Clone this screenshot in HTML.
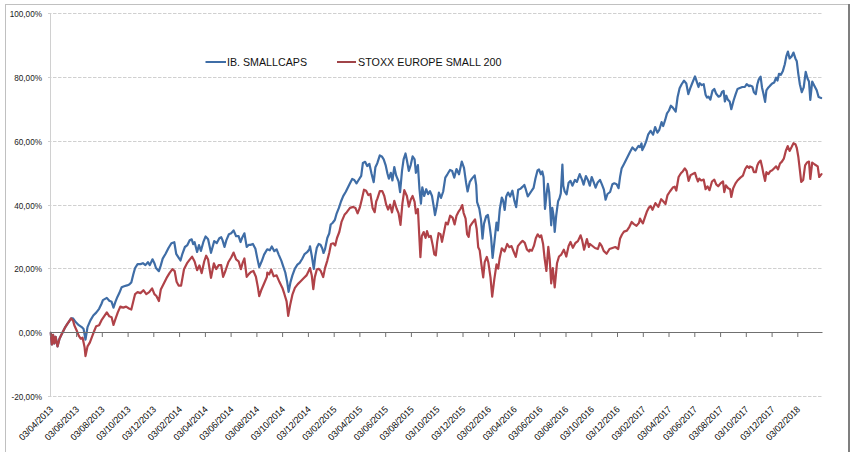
<!DOCTYPE html>
<html><head><meta charset="utf-8"><style>
html,body{margin:0;padding:0;background:#fff;}
body{width:853px;height:466px;overflow:hidden;}
svg{display:block;font-family:"Liberation Sans",sans-serif;}
</style></head><body>
<svg width="853" height="466" viewBox="0 0 853 466"><rect width="853" height="466" fill="#fff"/><line x1="5.5" y1="4" x2="5.5" y2="452" stroke="#c0c0c0" stroke-width="1"/><line x1="5" y1="4.5" x2="849" y2="4.5" stroke="#c0c0c0" stroke-width="1"/><line x1="849" y1="4" x2="849" y2="452" stroke="#7f7f7f" stroke-width="2"/><line x1="48" y1="13.5" x2="822.5" y2="13.5" stroke="#d0d0d0" stroke-width="1" stroke-dasharray="3.5 1.5"/><line x1="48" y1="77.5" x2="822.5" y2="77.5" stroke="#d0d0d0" stroke-width="1" stroke-dasharray="3.5 1.5"/><line x1="48" y1="141.5" x2="822.5" y2="141.5" stroke="#d0d0d0" stroke-width="1" stroke-dasharray="3.5 1.5"/><line x1="48" y1="205.5" x2="822.5" y2="205.5" stroke="#d0d0d0" stroke-width="1" stroke-dasharray="3.5 1.5"/><line x1="48" y1="268.5" x2="822.5" y2="268.5" stroke="#d0d0d0" stroke-width="1" stroke-dasharray="3.5 1.5"/><line x1="48" y1="396.5" x2="822.5" y2="396.5" stroke="#d0d0d0" stroke-width="1" stroke-dasharray="3.5 1.5"/><line x1="50.5" y1="13" x2="50.5" y2="396.5" stroke="#d0d0d0" stroke-width="1"/><text x="42" y="16.5" text-anchor="end" font-size="8.2" fill="#1a1a1a">100,00%</text><text x="42" y="80.5" text-anchor="end" font-size="8.2" fill="#1a1a1a">80,00%</text><text x="42" y="144.5" text-anchor="end" font-size="8.2" fill="#1a1a1a">60,00%</text><text x="42" y="208.5" text-anchor="end" font-size="8.2" fill="#1a1a1a">40,00%</text><text x="42" y="271.5" text-anchor="end" font-size="8.2" fill="#1a1a1a">20,00%</text><text x="42" y="335.5" text-anchor="end" font-size="8.2" fill="#1a1a1a">0,00%</text><text x="42" y="399.5" text-anchor="end" font-size="8.2" fill="#1a1a1a">-20,00%</text><path d="M50.8,332.9 L51.8,344.5 L53.1,334.8 L54.3,343.5 L55.6,336.8 L57.5,346.4 L59.5,338.7 L61.4,334.8 L63.3,331.0 L65.3,327.1 L67.2,324.2 L69.1,321.3 L71.1,318.4 L73.0,318.4 L75.9,322.3 L78.8,325.2 L81.7,327.1 L83.6,329.1 L85.5,339.7 L87.5,327.1 L90.4,320.4 L93.3,315.5 L96.2,312.6 L99.1,308.8 L101.4,304.0 L102.9,300.1 L106.8,297.9 L109.3,300.8 L111.6,301.8 L113.5,307.6 L115.4,301.8 L117.4,296.9 L119.3,293.1 L121.6,287.3 L124.1,286.3 L127.0,285.4 L129.3,284.4 L131.3,282.5 L133.2,274.7 L135.1,268.0 L137.6,264.1 L140.5,264.1 L142.9,263.2 L145.4,265.1 L147.9,262.2 L149.8,265.1 L152.5,259.3 L154.4,263.2 L156.0,268.0 L158.9,271.2 L160.8,265.4 L162.7,258.6 L165.6,253.8 L168.5,248.0 L171.4,243.2 L174.3,242.2 L176.2,253.8 L178.6,257.6 L180.5,260.5 L182.4,253.8 L184.9,247.0 L187.4,245.1 L189.7,240.3 L191.7,239.3 L193.2,244.1 L194.6,242.2 L197.1,251.9 L199.0,245.1 L200.9,250.9 L203.3,242.2 L205.6,236.4 L208.1,239.3 L211.0,252.8 L214.2,241.1 L216.8,243.0 L219.3,238.2 L221.2,237.2 L222.5,240.1 L224.5,246.9 L226.4,240.1 L228.9,234.3 L231.2,233.3 L233.6,230.4 L236.1,236.2 L238.6,236.2 L240.5,242.0 L242.4,237.2 L244.4,233.3 L246.7,246.9 L248.6,244.9 L250.5,244.9 L252.9,244.0 L255.4,248.8 L257.3,258.4 L259.2,267.1 L261.7,261.3 L264.1,254.6 L266.9,249.7 L267.3,249.3 L269.8,250.3 L271.8,246.4 L274.3,251.2 L276.6,249.3 L278.9,255.1 L281.4,260.9 L283.3,266.7 L285.3,272.5 L287.2,282.1 L288.6,291.8 L290.5,282.1 L292.4,275.4 L294.9,268.6 L297.4,264.7 L299.7,262.8 L302.1,259.0 L304.6,254.1 L307.1,252.2 L309.4,249.3 L310.0,246.3 L311.8,256.0 L313.8,268.8 L315.3,256.0 L316.8,247.8 L318.7,244.0 L320.5,244.8 L322.3,248.5 L323.5,253.0 L325.0,249.3 L327.3,238.0 L329.2,233.5 L330.7,224.5 L332.5,223.0 L334.8,220.0 L336.7,213.3 L338.9,207.9 L341.0,201.5 L343.2,196.1 L345.8,191.8 L347.9,187.6 L350.0,183.3 L352.2,179.0 L354.3,180.0 L356.5,183.3 L358.6,180.0 L361.2,175.8 L362.9,162.9 L365.1,161.8 L367.2,166.1 L369.4,163.9 L371.5,173.6 L373.7,182.2 L375.4,167.2 L377.3,163.2 L379.8,155.4 L381.8,156.4 L383.7,159.3 L385.6,165.1 L387.5,173.8 L388.9,178.6 L390.8,172.8 L392.4,180.5 L394.3,167.0 L396.2,175.7 L398.6,181.5 L400.1,192.1 L402.0,170.9 L403.6,159.3 L405.5,153.5 L406.9,160.3 L408.8,170.9 L410.7,165.1 L412.6,156.4 L414.6,159.3 L415.9,172.8 L417.9,165.1 L419.4,188.3 L420.9,203.7 L422.3,187.3 L424.2,196.0 L426.2,189.2 L428.1,194.1 L430.0,191.2 L432.0,196.0 L433.9,207.6 L435.0,215.1 L436.7,206.5 L438.9,192.6 L441.0,197.9 L443.2,191.5 L445.3,177.6 L447.4,174.3 L450.0,170.0 L452.2,171.1 L454.3,177.6 L456.5,169.0 L459.0,174.3 L461.8,161.5 L464.0,167.9 L466.1,182.9 L467.6,191.5 L469.8,181.8 L471.9,178.6 L474.7,175.4 L476.2,185.1 L477.1,202.1 L479.3,208.6 L481.0,219.3 L482.5,238.6 L484.0,223.6 L486.2,216.1 L487.9,215.0 L489.6,225.8 L491.1,237.6 L492.6,257.9 L494.3,242.9 L496.5,222.5 L497.9,230.3 L499.8,209.1 L501.8,197.5 L503.1,200.4 L504.7,210.0 L506.2,196.5 L508.1,192.6 L510.1,196.5 L512.4,190.7 L514.3,200.4 L516.2,207.1 L518.2,189.7 L520.5,188.8 L522.4,186.9 L524.3,184.9 L525.9,189.7 L527.8,196.5 L529.7,193.6 L531.7,190.7 L533.6,187.8 L535.5,178.2 L537.5,170.4 L539.0,169.5 L540.9,174.3 L542.3,171.4 L543.6,177.2 L545.0,208.9 L546.5,194.4 L547.9,183.8 L549.2,192.5 L550.4,211.8 L551.2,225.3 L552.3,207.9 L553.7,216.6 L554.7,232.0 L556.2,215.6 L558.1,201.2 L559.5,198.3 L560.8,193.4 L562.4,164.5 L563.3,185.7 L564.7,191.5 L566.6,194.4 L568.6,182.8 L570.5,180.9 L572.4,185.7 L574.9,179.9 L576.9,181.9 L579.7,174.1 L582.1,179.9 L583.6,184.7 L585.9,176.1 L587.9,179.9 L589.8,185.7 L591.7,177.0 L593.6,181.9 L595.6,187.6 L597.5,182.8 L600.0,179.9 L602.0,184.7 L603.9,189.6 L605.6,199.7 L607.5,194.0 L610.1,192.0 L612.4,184.3 L614.3,183.3 L616.6,184.3 L618.6,188.2 L620.1,176.6 L621.6,168.6 L624.0,164.0 L627.0,158.0 L630.0,152.0 L632.4,147.5 L635.4,150.5 L638.4,146.0 L640.0,147.2 L641.5,143.4 L642.3,150.1 L644.2,146.3 L646.2,141.4 L648.1,134.7 L650.6,130.8 L653.1,134.7 L655.1,127.0 L657.4,132.7 L659.3,129.8 L661.6,122.1 L663.2,126.0 L665.1,120.2 L667.0,113.4 L669.0,110.5 L670.9,105.7 L672.8,107.6 L675.7,111.5 L677.6,97.0 L679.6,88.3 L681.5,84.5 L684.0,80.6 L686.3,83.5 L688.3,94.1 L690.2,88.3 L692.1,83.5 L695.0,76.4 L696.9,82.2 L698.5,87.0 L699.8,83.2 L701.8,85.1 L703.7,84.1 L705.6,94.7 L707.0,97.6 L708.5,96.7 L710.4,99.6 L712.4,90.9 L714.3,89.0 L716.2,93.8 L718.6,96.7 L720.5,95.7 L722.0,91.9 L723.6,90.9 L724.9,101.5 L726.3,95.7 L727.8,99.6 L729.7,101.5 L731.3,109.2 L733.6,100.5 L735.5,94.7 L737.5,89.0 L739.8,88.0 L742.3,87.0 L744.8,87.0 L746.7,84.1 L749.1,86.1 L750.0,85.4 L752.3,86.4 L753.9,92.2 L755.8,94.1 L757.3,84.5 L758.7,79.6 L760.6,76.7 L762.0,87.4 L763.5,94.1 L765.1,101.9 L766.4,90.3 L768.4,87.4 L770.3,85.4 L772.2,83.5 L774.2,82.5 L776.1,77.7 L777.5,80.6 L779.0,73.8 L780.9,74.8 L782.9,70.9 L784.8,64.2 L786.3,56.4 L787.9,51.6 L789.6,58.4 L791.6,56.4 L793.5,52.6 L795.4,58.4 L796.8,61.3 L798.3,73.8 L799.9,84.5 L801.8,92.2 L803.7,87.4 L805.7,71.9 L807.6,78.7 L809.0,81.6 L810.3,99.9 L812.2,81.6 L814.2,85.4 L816.7,90.3 L818.6,97.0 L821.1,98.0" fill="none" stroke="#3f6da6" stroke-width="2.2" stroke-linejoin="round" stroke-linecap="round"/><path d="M50.8,332.9 L51.8,344.5 L53.1,334.8 L54.3,343.5 L55.6,336.8 L57.5,346.4 L59.5,338.7 L61.4,334.8 L63.3,331.0 L65.3,327.1 L67.2,324.2 L69.1,321.3 L71.1,318.4 L73.0,320.4 L74.3,325.2 L76.9,331.0 L78.8,335.8 L80.7,338.7 L82.6,337.7 L84.6,347.4 L85.5,356.1 L87.5,346.4 L89.8,342.6 L91.7,337.7 L94.2,331.0 L96.2,326.2 L99.1,325.2 L101.4,320.4 L106.8,312.4 L109.3,316.3 L111.6,317.2 L113.5,324.9 L115.4,319.2 L117.8,312.4 L120.3,306.6 L123.2,307.6 L126.1,306.6 L129.0,308.5 L131.3,309.5 L133.2,301.8 L135.1,294.1 L137.6,292.1 L140.5,293.1 L143.4,290.2 L146.3,294.1 L149.2,292.1 L152.1,288.3 L154.4,294.1 L156.4,296.0 L158.9,301.1 L160.8,289.5 L163.7,283.7 L166.6,277.9 L169.5,273.1 L172.4,269.2 L174.7,271.2 L176.6,281.8 L178.6,285.6 L181.1,285.6 L184.0,269.2 L186.9,263.4 L189.7,259.6 L192.1,256.7 L194.6,261.5 L197.1,270.2 L199.4,265.4 L201.7,273.1 L204.2,261.5 L206.2,255.7 L208.1,259.6 L211.0,277.9 L213.9,263.3 L216.2,269.1 L218.7,265.2 L221.2,265.2 L223.1,276.8 L225.4,271.0 L228.3,262.3 L231.2,257.5 L233.6,252.6 L236.1,259.4 L238.6,261.3 L240.9,269.1 L242.8,262.3 L244.4,258.4 L246.7,276.8 L249.0,273.9 L250.9,272.0 L253.4,271.0 L255.9,276.8 L257.9,287.4 L259.2,296.1 L261.2,290.3 L264.1,283.5 L266.9,276.8 L267.3,272.5 L269.2,274.4 L271.2,269.6 L273.7,276.3 L276.6,275.4 L279.5,282.1 L282.4,287.9 L284.3,293.7 L286.6,301.4 L288.2,315.9 L290.1,305.3 L292.4,294.7 L294.9,287.9 L297.8,284.1 L300.7,281.2 L303.6,278.3 L306.5,275.4 L309.4,269.6 L310.0,268.1 L311.8,275.6 L313.3,289.1 L314.8,277.1 L316.8,269.6 L318.7,268.8 L320.8,271.1 L323.2,277.1 L325.0,268.1 L327.3,260.6 L329.2,253.0 L331.0,244.0 L333.3,243.3 L335.2,245.5 L337.0,238.0 L339.3,232.0 L341.5,221.9 L344.7,214.4 L346.8,212.2 L350.0,207.9 L353.3,206.9 L355.4,207.9 L357.6,213.3 L359.7,207.9 L361.8,199.4 L364.0,189.7 L366.1,190.8 L368.3,195.1 L370.4,194.0 L372.6,207.9 L374.7,212.2 L376.2,201.5 L377.3,198.9 L379.8,191.2 L382.3,191.2 L384.3,196.0 L386.2,204.7 L388.1,209.5 L390.1,204.7 L392.0,212.4 L394.3,200.8 L396.6,208.5 L398.6,213.4 L400.5,224.9 L402.4,203.7 L404.3,190.2 L406.9,196.0 L408.8,206.6 L410.7,199.8 L412.6,196.0 L414.6,201.8 L415.9,213.4 L417.9,209.0 L419.2,234.1 L420.4,257.2 L421.8,236.0 L423.7,232.1 L425.6,237.9 L427.0,231.2 L428.9,237.0 L430.8,236.0 L432.8,245.6 L434.3,254.3 L435.8,255.3 L437.2,241.8 L438.6,233.1 L440.5,234.1 L442.0,241.8 L444.0,232.1 L445.9,222.5 L447.8,224.4 L450.1,215.7 L452.6,217.6 L454.6,224.4 L456.5,215.7 L458.4,211.9 L460.4,209.0 L462.3,205.1 L463.6,212.8 L465.6,218.6 L467.1,234.1 L468.7,236.9 L470.0,226.3 L472.0,223.4 L475.0,219.3 L476.7,229.0 L478.2,247.2 L479.7,250.4 L481.4,264.4 L483.2,277.3 L484.7,262.2 L486.8,256.9 L488.3,262.2 L490.5,277.3 L492.2,296.6 L494.3,279.4 L496.5,264.4 L498.2,268.7 L499.7,257.9 L501.8,248.3 L504.6,251.5 L507.2,244.0 L509.3,247.2 L511.5,246.1 L513.6,251.5 L515.8,256.9 L517.9,246.1 L520.5,242.9 L522.6,240.8 L524.8,242.9 L526.9,249.4 L529.1,251.5 L530.0,249.7 L531.9,250.7 L533.9,245.9 L535.8,238.2 L537.7,234.3 L539.7,237.2 L541.2,235.3 L543.1,244.0 L544.5,257.5 L546.4,271.0 L548.3,246.9 L549.7,259.4 L551.2,283.5 L552.8,268.1 L554.7,287.4 L557.0,263.3 L559.0,256.5 L561.3,254.6 L563.8,249.7 L566.3,256.5 L568.6,245.9 L570.5,242.0 L572.9,247.8 L575.4,243.0 L577.9,241.1 L580.6,235.3 L582.1,240.1 L584.1,249.7 L586.9,239.1 L588.9,246.9 L590.0,244.0 L595.0,248.0 L597.9,249.0 L599.8,243.2 L601.8,246.1 L603.7,250.9 L606.6,253.8 L609.5,249.0 L612.4,248.0 L615.3,247.0 L618.2,249.0 L620.1,238.4 L622.0,234.5 L624.0,231.6 L626.9,230.6 L629.4,226.8 L631.7,222.0 L633.6,223.9 L636.5,225.8 L639.0,222.9 L640.0,218.5 L641.5,221.4 L642.9,223.4 L644.8,217.6 L646.8,211.8 L648.7,207.9 L650.6,206.0 L652.5,209.8 L655.4,203.1 L658.3,206.9 L661.2,199.2 L663.2,201.2 L665.5,204.1 L667.4,195.4 L669.9,191.5 L672.8,187.6 L674.7,186.7 L676.3,190.5 L678.6,177.0 L680.9,173.2 L682.9,171.2 L684.8,168.3 L686.7,171.2 L688.6,180.9 L690.6,175.1 L694.1,173.2 L695.0,172.8 L696.5,177.6 L697.9,181.5 L699.2,178.6 L701.2,180.5 L703.7,179.6 L705.6,189.2 L707.5,186.3 L709.5,190.2 L712.0,181.5 L714.3,179.6 L716.2,184.4 L718.2,186.3 L720.5,183.4 L723.0,181.5 L724.3,192.1 L725.9,185.4 L728.2,188.3 L730.1,189.2 L731.3,197.0 L733.2,188.3 L735.5,183.4 L737.5,180.5 L740.4,177.6 L742.9,175.7 L745.2,169.0 L747.1,166.1 L749.1,168.0 L750.0,166.4 L752.3,167.4 L753.9,172.2 L755.8,172.2 L757.3,165.4 L758.7,162.5 L760.6,160.6 L762.0,166.4 L763.5,174.1 L765.1,180.9 L766.4,172.2 L768.4,174.1 L770.3,171.2 L772.2,170.3 L774.2,168.3 L776.1,166.4 L778.0,169.3 L780.0,163.5 L781.9,161.6 L783.8,158.7 L785.8,150.9 L787.7,146.1 L789.6,150.9 L791.6,147.1 L793.5,143.2 L795.4,144.2 L796.8,148.0 L798.3,156.7 L799.9,170.3 L801.2,181.9 L803.2,179.9 L805.1,165.4 L807.0,162.5 L809.0,161.6 L810.3,179.0 L812.2,162.5 L814.8,164.5 L817.7,166.4 L819.2,177.0 L821.5,174.1" fill="none" stroke="#b04248" stroke-width="2.2" stroke-linejoin="round" stroke-linecap="round"/><line x1="50.5" y1="332.5" x2="822.5" y2="332.5" stroke="#707070" stroke-width="1"/><line x1="50.8" y1="332" x2="50.8" y2="337" stroke="#707070" stroke-width="1"/><text transform="translate(53.8,410) rotate(-45)" text-anchor="end" font-size="9.3" fill="#0a0a0a" textLength="44" lengthAdjust="spacingAndGlyphs">03/04/2013</text><line x1="76.6" y1="332" x2="76.6" y2="337" stroke="#707070" stroke-width="1"/><text transform="translate(79.6,410) rotate(-45)" text-anchor="end" font-size="9.3" fill="#0a0a0a" textLength="44" lengthAdjust="spacingAndGlyphs">03/06/2013</text><line x1="102.3" y1="332" x2="102.3" y2="337" stroke="#707070" stroke-width="1"/><text transform="translate(105.3,410) rotate(-45)" text-anchor="end" font-size="9.3" fill="#0a0a0a" textLength="44" lengthAdjust="spacingAndGlyphs">03/08/2013</text><line x1="128.1" y1="332" x2="128.1" y2="337" stroke="#707070" stroke-width="1"/><text transform="translate(131.1,410) rotate(-45)" text-anchor="end" font-size="9.3" fill="#0a0a0a" textLength="44" lengthAdjust="spacingAndGlyphs">03/10/2013</text><line x1="153.8" y1="332" x2="153.8" y2="337" stroke="#707070" stroke-width="1"/><text transform="translate(156.8,410) rotate(-45)" text-anchor="end" font-size="9.3" fill="#0a0a0a" textLength="44" lengthAdjust="spacingAndGlyphs">03/12/2013</text><line x1="179.6" y1="332" x2="179.6" y2="337" stroke="#707070" stroke-width="1"/><text transform="translate(182.6,410) rotate(-45)" text-anchor="end" font-size="9.3" fill="#0a0a0a" textLength="44" lengthAdjust="spacingAndGlyphs">03/02/2014</text><line x1="205.4" y1="332" x2="205.4" y2="337" stroke="#707070" stroke-width="1"/><text transform="translate(208.4,410) rotate(-45)" text-anchor="end" font-size="9.3" fill="#0a0a0a" textLength="44" lengthAdjust="spacingAndGlyphs">03/04/2014</text><line x1="231.1" y1="332" x2="231.1" y2="337" stroke="#707070" stroke-width="1"/><text transform="translate(234.1,410) rotate(-45)" text-anchor="end" font-size="9.3" fill="#0a0a0a" textLength="44" lengthAdjust="spacingAndGlyphs">03/06/2014</text><line x1="256.9" y1="332" x2="256.9" y2="337" stroke="#707070" stroke-width="1"/><text transform="translate(259.9,410) rotate(-45)" text-anchor="end" font-size="9.3" fill="#0a0a0a" textLength="44" lengthAdjust="spacingAndGlyphs">03/08/2014</text><line x1="282.6" y1="332" x2="282.6" y2="337" stroke="#707070" stroke-width="1"/><text transform="translate(285.6,410) rotate(-45)" text-anchor="end" font-size="9.3" fill="#0a0a0a" textLength="44" lengthAdjust="spacingAndGlyphs">03/10/2014</text><line x1="308.4" y1="332" x2="308.4" y2="337" stroke="#707070" stroke-width="1"/><text transform="translate(311.4,410) rotate(-45)" text-anchor="end" font-size="9.3" fill="#0a0a0a" textLength="44" lengthAdjust="spacingAndGlyphs">03/12/2014</text><line x1="334.2" y1="332" x2="334.2" y2="337" stroke="#707070" stroke-width="1"/><text transform="translate(337.2,410) rotate(-45)" text-anchor="end" font-size="9.3" fill="#0a0a0a" textLength="44" lengthAdjust="spacingAndGlyphs">03/02/2015</text><line x1="359.9" y1="332" x2="359.9" y2="337" stroke="#707070" stroke-width="1"/><text transform="translate(362.9,410) rotate(-45)" text-anchor="end" font-size="9.3" fill="#0a0a0a" textLength="44" lengthAdjust="spacingAndGlyphs">03/04/2015</text><line x1="385.7" y1="332" x2="385.7" y2="337" stroke="#707070" stroke-width="1"/><text transform="translate(388.7,410) rotate(-45)" text-anchor="end" font-size="9.3" fill="#0a0a0a" textLength="44" lengthAdjust="spacingAndGlyphs">03/06/2015</text><line x1="411.4" y1="332" x2="411.4" y2="337" stroke="#707070" stroke-width="1"/><text transform="translate(414.4,410) rotate(-45)" text-anchor="end" font-size="9.3" fill="#0a0a0a" textLength="44" lengthAdjust="spacingAndGlyphs">03/08/2015</text><line x1="437.2" y1="332" x2="437.2" y2="337" stroke="#707070" stroke-width="1"/><text transform="translate(440.2,410) rotate(-45)" text-anchor="end" font-size="9.3" fill="#0a0a0a" textLength="44" lengthAdjust="spacingAndGlyphs">03/10/2015</text><line x1="463.0" y1="332" x2="463.0" y2="337" stroke="#707070" stroke-width="1"/><text transform="translate(466.0,410) rotate(-45)" text-anchor="end" font-size="9.3" fill="#0a0a0a" textLength="44" lengthAdjust="spacingAndGlyphs">03/12/2015</text><line x1="488.7" y1="332" x2="488.7" y2="337" stroke="#707070" stroke-width="1"/><text transform="translate(491.7,410) rotate(-45)" text-anchor="end" font-size="9.3" fill="#0a0a0a" textLength="44" lengthAdjust="spacingAndGlyphs">03/02/2016</text><line x1="514.5" y1="332" x2="514.5" y2="337" stroke="#707070" stroke-width="1"/><text transform="translate(517.5,410) rotate(-45)" text-anchor="end" font-size="9.3" fill="#0a0a0a" textLength="44" lengthAdjust="spacingAndGlyphs">03/04/2016</text><line x1="540.2" y1="332" x2="540.2" y2="337" stroke="#707070" stroke-width="1"/><text transform="translate(543.2,410) rotate(-45)" text-anchor="end" font-size="9.3" fill="#0a0a0a" textLength="44" lengthAdjust="spacingAndGlyphs">03/06/2016</text><line x1="566.0" y1="332" x2="566.0" y2="337" stroke="#707070" stroke-width="1"/><text transform="translate(569.0,410) rotate(-45)" text-anchor="end" font-size="9.3" fill="#0a0a0a" textLength="44" lengthAdjust="spacingAndGlyphs">03/08/2016</text><line x1="591.8" y1="332" x2="591.8" y2="337" stroke="#707070" stroke-width="1"/><text transform="translate(594.8,410) rotate(-45)" text-anchor="end" font-size="9.3" fill="#0a0a0a" textLength="44" lengthAdjust="spacingAndGlyphs">03/10/2016</text><line x1="617.5" y1="332" x2="617.5" y2="337" stroke="#707070" stroke-width="1"/><text transform="translate(620.5,410) rotate(-45)" text-anchor="end" font-size="9.3" fill="#0a0a0a" textLength="44" lengthAdjust="spacingAndGlyphs">03/12/2016</text><line x1="643.3" y1="332" x2="643.3" y2="337" stroke="#707070" stroke-width="1"/><text transform="translate(646.3,410) rotate(-45)" text-anchor="end" font-size="9.3" fill="#0a0a0a" textLength="44" lengthAdjust="spacingAndGlyphs">03/02/2017</text><line x1="669.0" y1="332" x2="669.0" y2="337" stroke="#707070" stroke-width="1"/><text transform="translate(672.0,410) rotate(-45)" text-anchor="end" font-size="9.3" fill="#0a0a0a" textLength="44" lengthAdjust="spacingAndGlyphs">03/04/2017</text><line x1="694.8" y1="332" x2="694.8" y2="337" stroke="#707070" stroke-width="1"/><text transform="translate(697.8,410) rotate(-45)" text-anchor="end" font-size="9.3" fill="#0a0a0a" textLength="44" lengthAdjust="spacingAndGlyphs">03/06/2017</text><line x1="720.6" y1="332" x2="720.6" y2="337" stroke="#707070" stroke-width="1"/><text transform="translate(723.6,410) rotate(-45)" text-anchor="end" font-size="9.3" fill="#0a0a0a" textLength="44" lengthAdjust="spacingAndGlyphs">03/08/2017</text><line x1="746.3" y1="332" x2="746.3" y2="337" stroke="#707070" stroke-width="1"/><text transform="translate(749.3,410) rotate(-45)" text-anchor="end" font-size="9.3" fill="#0a0a0a" textLength="44" lengthAdjust="spacingAndGlyphs">03/10/2017</text><line x1="772.1" y1="332" x2="772.1" y2="337" stroke="#707070" stroke-width="1"/><text transform="translate(775.1,410) rotate(-45)" text-anchor="end" font-size="9.3" fill="#0a0a0a" textLength="44" lengthAdjust="spacingAndGlyphs">03/12/2017</text><line x1="797.8" y1="332" x2="797.8" y2="337" stroke="#707070" stroke-width="1"/><text transform="translate(800.8,410) rotate(-45)" text-anchor="end" font-size="9.3" fill="#0a0a0a" textLength="44" lengthAdjust="spacingAndGlyphs">03/02/2018</text><line x1="205.5" y1="62" x2="226" y2="62" stroke="#3f6da6" stroke-width="2"/><text x="227" y="66" font-size="11" fill="#111" textLength="80" lengthAdjust="spacingAndGlyphs">IB. SMALLCAPS</text><line x1="337" y1="62" x2="356" y2="62" stroke="#a04448" stroke-width="2"/><text x="358" y="66" font-size="11" fill="#111" textLength="143.5" lengthAdjust="spacingAndGlyphs">STOXX EUROPE SMALL 200</text></svg>
</body></html>
